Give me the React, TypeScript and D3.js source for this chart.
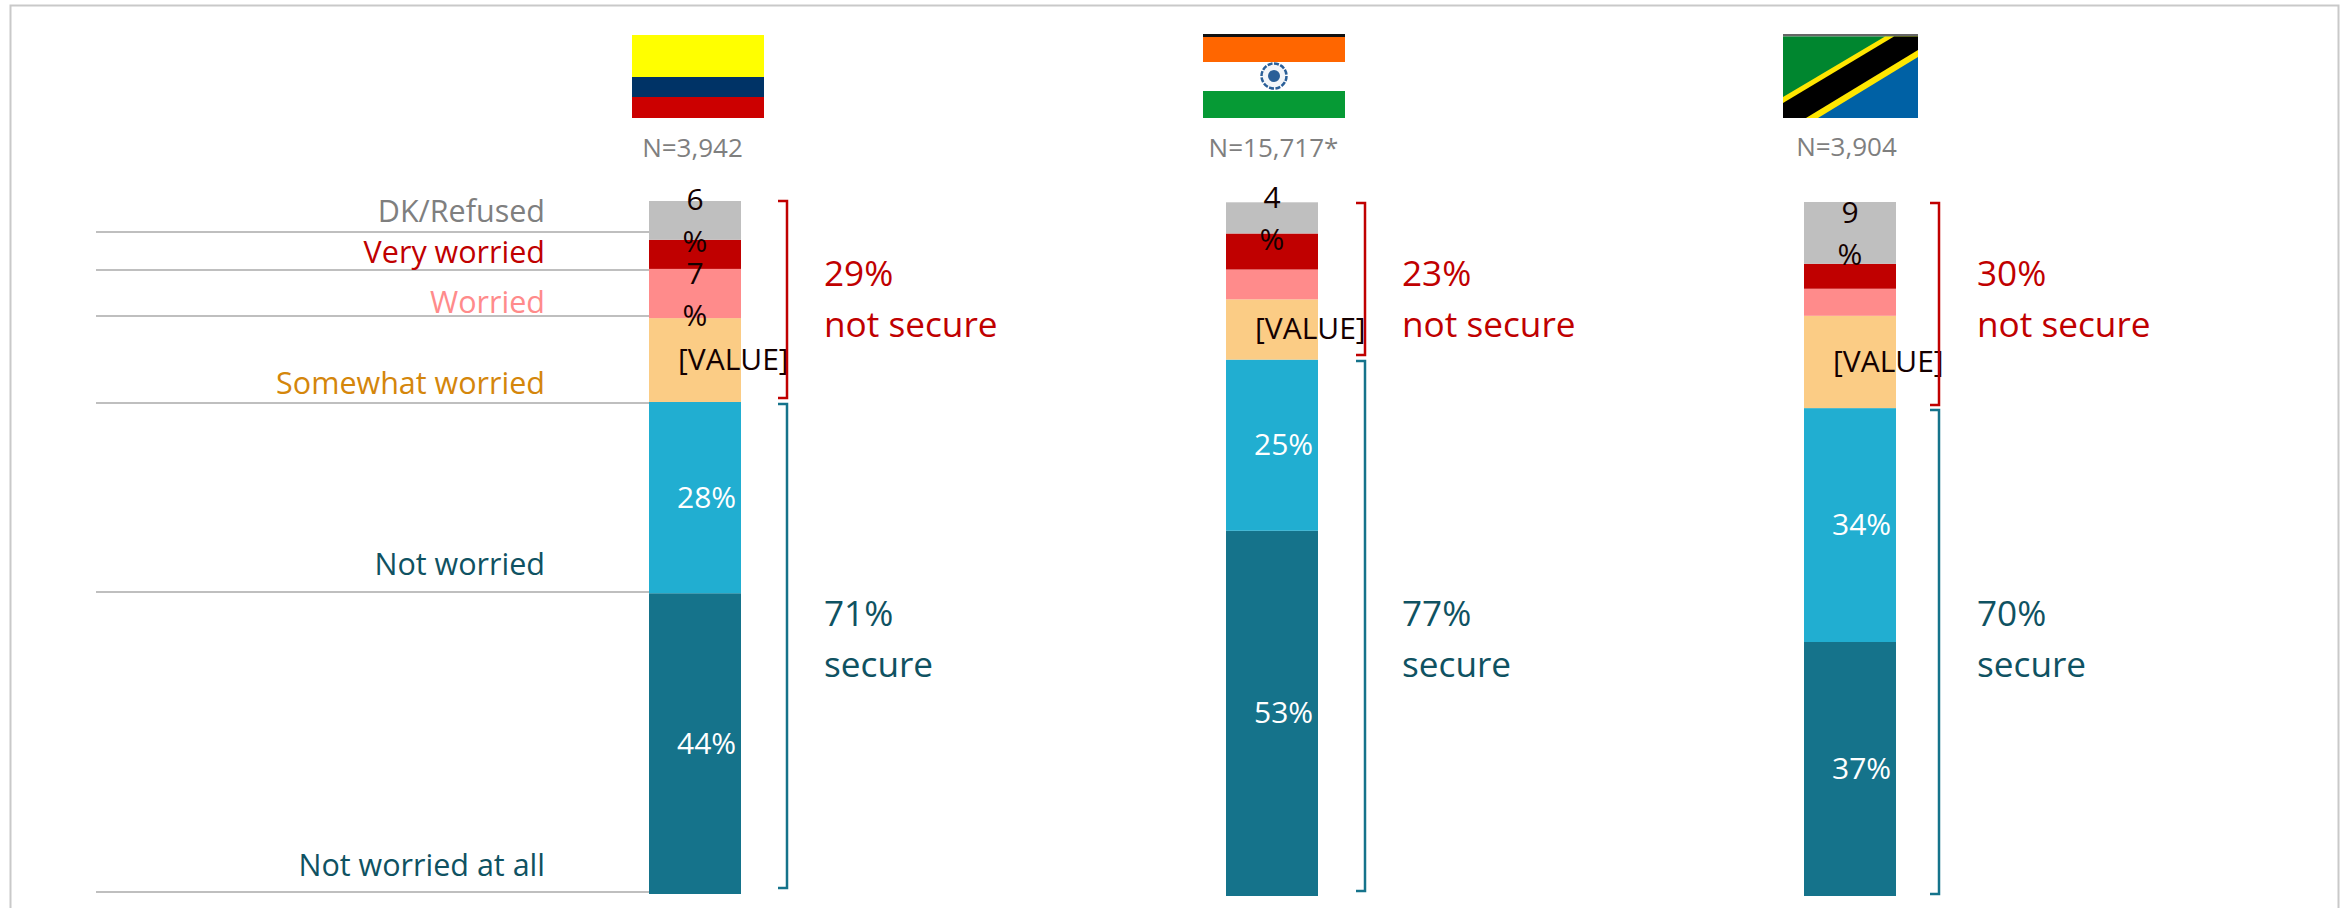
import React from "react";
import * as d3 from "d3";

const countries = ["Colombia", "India", "Tanzania"];
const sampleLabels = ["N=3,942", "N=15,717*", "N=3,904"];
const responses = ["Not worried at all", "Not worried", "Somewhat worried", "Worried", "Very worried", "DK/Refused"];

const colombiaValues = [43.4, 27.6, 12.1, 7.1, 4.2, 5.6];
const indiaValues = [52.7, 24.7, 8.7, 4.3, 5.2, 4.5];
const tanzaniaValues = [36.6, 33.7, 13.3, 3.9, 3.6, 8.9];
const seriesValues = [colombiaValues, indiaValues, tanzaniaValues];

const colombiaLabels = ["44%", "28%", "[VALUE]", "7%", "", "6%"];
const indiaLabels = ["53%", "25%", "[VALUE]", "", "", "4%"];
const tanzaniaLabels = ["37%", "34%", "[VALUE]", "", "", "9%"];
const barLabels = [colombiaLabels, indiaLabels, tanzaniaLabels];

const notSecureLabels = ["29%", "23%", "30%"];
const secureLabels = ["71%", "77%", "70%"];

const FONT = "'Open Sans', sans-serif";
const RED = "#c00000";
const TEAL = "#0f5262";
const BRACKET_TEAL = "#15738b";
const fills = ["#15738b", "#21aed1", "#fbcc85", "#ff8b8b", "#c00000", "#bfbfbf"];
const labelFills = ["#0f5262", "#0f5262", "#d4860b", "#ff8b8b", "#c00000", "#7f7f7f"];
const labelBaselines = [876, 575, 394, 313, 263, 222];
const ruleYs = [892, 592, 403, 316, 270, 232];

const layout = [
  { barX: 649, top: 201, bottom: 894, redB: [201, 398], blueB: [404, 888], brX: 787, textX: 825, nX: 692.5, nY: 157 },
  { barX: 1226, top: 203, bottom: 896, redB: [203, 355], blueB: [361, 891], brX: 1365, textX: 1403, nX: 1273.5, nY: 157 },
  { barX: 1804, top: 202, bottom: 896, redB: [203, 405], blueB: [410, 894], brX: 1939, textX: 1978, nX: 1846.5, nY: 155.5 },
];
const BAR_W = 92;

const stack = d3.stack<number[]>().keys(responses.map((_, i) => String(i))).value((d, k) => d[+k]);
const stacked = stack(seriesValues);

function bracket(x: number, y0: number, y1: number) {
  const p = d3.path();
  p.moveTo(x - 9, y0);
  p.lineTo(x, y0);
  p.lineTo(x, y1);
  p.lineTo(x - 9, y1);
  return p.toString();
}

function Flags() {
  return (
    <g>
      {/* Colombia */}
      <rect x={632} y={35} width={132} height={42} fill="#ffff00" />
      <rect x={632} y={77} width={132} height={20} fill="#003366" />
      <rect x={632} y={97} width={132} height={21} fill="#cc0000" />
      {/* India */}
      <rect x={1203} y={34} width={142} height={3} fill="#111" />
      <rect x={1203} y={37} width={142} height={25} fill="#ff6600" />
      <rect x={1203} y={62} width={142} height={29} fill="#fff" />
      <rect x={1203} y={91} width={142} height={27} fill="#069a35" />
      <circle cx={1274} cy={76} r={12.5} fill="#f2f5f9" stroke="#2a5f98" strokeWidth={2.5} strokeDasharray="5 1.5" />
      <circle cx={1274} cy={76} r={6} fill="#2a5f98" />
      {/* Tanzania */}
      <rect x={1783} y={34} width={135} height={2.5} fill="#666" />
      <rect x={1783} y={36.5} width={135} height={81.5} fill="#00862f" />
      <polygon points="1918,36.5 1918,118 1783,118" fill="#0061a5" />
      <polygon points="1885,36.5 1918,36.5 1918,57 1818,118 1783,118 1783,97" fill="#ffe600" />
      <polygon points="1894,36.5 1918,36.5 1918,50 1806,118 1783,118 1783,103" fill="#000" />
    </g>
  );
}

export default function App() {
  return (
    <svg width={2347} height={908} style={{ position: "absolute", left: 0, top: 0, background: "#fff" }} fontFamily={FONT}>
      <path d="M10.5,908V5.5H2338.5V908" fill="none" stroke="#c9c9c9" strokeWidth={2} />
      <Flags />
      {ruleYs.map((y, i) => (
        <line key={i} x1={96} x2={649} y1={y} y2={y} stroke="#bfbfbf" strokeWidth={2} />
      ))}
      {responses.map((r, i) => (
        <text key={r} x={545} y={labelBaselines[i]} textAnchor="end" fontSize={30.5} fill={labelFills[i]}>{r}</text>
      ))}
      {countries.map((c, ci) => {
        const l = layout[ci];
        const y = d3.scaleLinear().domain([0, 100]).range([l.bottom, l.top]);
        return (
          <g key={c}>
            <text x={l.nX} y={l.nY} textAnchor="middle" fontSize={26} fill="#7f7f7f">{sampleLabels[ci]}</text>
            {stacked.map((s, si) => (
              <rect key={si} x={l.barX} width={BAR_W} y={y(s[ci][1])} height={y(s[ci][0]) - y(s[ci][1])} fill={fills[si]} />
            ))}
            {stacked.map((s, si) => {
              const label = barLabels[ci][si];
              if (!label) return null;
              const cy = (y(s[ci][0]) + y(s[ci][1])) / 2;
              if (si >= 3) {
                return (
                  <g key={si} fontSize={30} fill="#140000" textAnchor="middle">
                    <text x={l.barX + BAR_W / 2} y={cy - 10}>{label.slice(0, -1)}</text>
                    <text x={l.barX + BAR_W / 2} y={cy + 32}>%</text>
                  </g>
                );
              }
              return (
                <text key={si} x={l.barX + (si === 2 ? 29 : 28)} y={cy + 10} fontSize={30} fill={si === 2 ? "#140000" : "#fff"}>{label}</text>
              );
            })}
            <path d={bracket(l.brX, l.redB[0], l.redB[1])} fill="none" stroke={RED} strokeWidth={2.5} />
            <path d={bracket(l.brX, l.blueB[0], l.blueB[1])} fill="none" stroke={BRACKET_TEAL} strokeWidth={2.5} />
            <g fontSize={35.2} fill={RED}>
              <text x={l.textX - 1} y={286}>{notSecureLabels[ci]}</text>
              <text x={l.textX - 1} y={337}>not secure</text>
            </g>
            <g fontSize={35.2} fill={TEAL}>
              <text x={l.textX - 1} y={626}>{secureLabels[ci]}</text>
              <text x={l.textX - 1} y={677}>secure</text>
            </g>
          </g>
        );
      })}
    </svg>
  );
}
